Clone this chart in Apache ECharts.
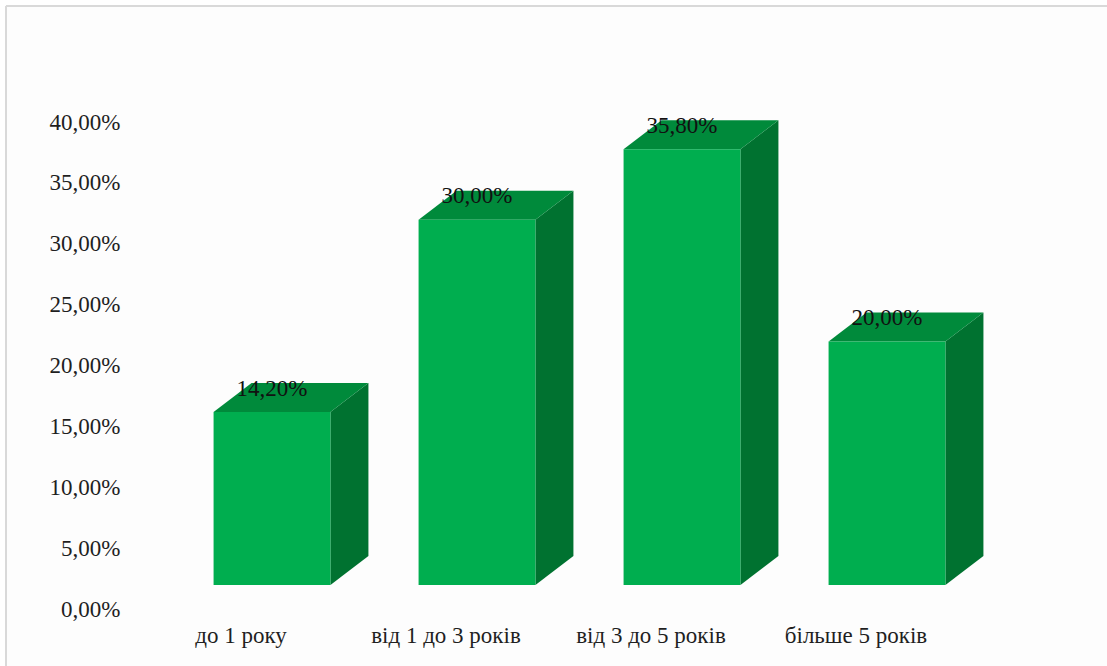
<!DOCTYPE html>
<html>
<head>
<meta charset="utf-8">
<script src="https://cdn.jsdelivr.net/npm/echarts@6/dist/echarts.min.js"></script>
<style>
  html, body { margin: 0; padding: 0; background: #ffffff; }
  #main { width: 1107px; height: 666px; }
</style>
</head>
<body>
<div id="main"></div>
<script>
  // data
  var categories = ['до 1 року', 'від 1 до 3 років', 'від 3 до 5 років', 'більше 5 років'];
  var shares = [14.2, 30.0, 35.8, 20.0];
  var yTicks = [0, 5, 10, 15, 20, 25, 30, 35, 40];

  // excel-like 3d box look
  var SHIFT_X = 31, SHIFT_Y = 24;   // front face offset from the axis
  var DEPTH_X = 38, DEPTH_Y = 29;   // back face offset
  var FRONT = '#00ae4f', TOP = '#008a3b', SIDE = '#007230';

  function pct(v) {
    return v.toFixed(2).replace('.', ',') + '%';
  }

  function renderBox(params, api) {
    var i = api.value(0), v = api.value(1);
    var base = api.coord([i, 0]);
    var head = api.coord([i, v]);
    var w = api.size([1, 0])[0] * 0.57;
    var cx = base[0] + SHIFT_X;
    var x0 = cx - w / 2, x1 = cx + w / 2;
    var yb = base[1] - SHIFT_Y, yt = head[1] - SHIFT_Y;
    return {
      type: 'group',
      children: [
        { type: 'polygon', shape: { points: [[x1, yt], [x1 + DEPTH_X, yt - DEPTH_Y], [x1 + DEPTH_X, yb - DEPTH_Y], [x1, yb]] }, style: { fill: SIDE } },
        { type: 'polygon', shape: { points: [[x0, yt], [x1, yt], [x1 + DEPTH_X, yt - DEPTH_Y], [x0 + DEPTH_X, yt - DEPTH_Y]] }, style: { fill: TOP } },
        { type: 'rect', shape: { x: x0, y: yt, width: w, height: yb - yt }, style: { fill: FRONT } },
        { type: 'text', x: cx, y: yt - 24, style: { text: pct(v), fill: '#111', font: '23px "Liberation Serif"', align: 'center', verticalAlign: 'middle' } }
      ]
    };
  }

  var myChart = echarts.init(document.getElementById('main'), null, { renderer: 'svg' });
  myChart.setOption({
    backgroundColor: '#fdfdfd',
    animation: false,
    graphic: [
      { type: 'line', shape: { x1: 6, y1: 6, x2: 1107, y2: 6 }, style: { stroke: '#d9d9d9', lineWidth: 2 } },
      { type: 'line', shape: { x1: 6, y1: 6, x2: 6, y2: 666 }, style: { stroke: '#d9d9d9', lineWidth: 2 } },
      { type: 'rect', shape: { x: 0, y: 0, width: 1107, height: 5 }, style: { fill: '#fff' }, z: -1 },
      { type: 'rect', shape: { x: 0, y: 0, width: 5, height: 666 }, style: { fill: '#fff' }, z: -1 }
    ],
    grid: { left: 138.5, right: 148.5, top: 122, bottom: 57, containLabel: false },
    xAxis: {
      type: 'category',
      data: categories,
      axisLine: { show: false },
      axisTick: { show: false },
      axisLabel: {
        margin: 15,
        color: '#1f1f1f',
        fontFamily: 'Liberation Serif',
        fontSize: 23
      }
    },
    yAxis: {
      type: 'value',
      min: yTicks[0],
      max: yTicks[yTicks.length - 1],
      interval: 5,
      splitLine: { show: false },
      axisLine: { show: false },
      axisTick: { show: false },
      axisLabel: {
        margin: 18,
        color: '#1f1f1f',
        fontFamily: 'Liberation Serif',
        fontSize: 23,
        formatter: pct
      }
    },
    series: [
      {
        type: 'custom',
        renderItem: renderBox,
        data: shares.map(function (v, i) { return [i, v]; })
      }
    ]
  });
</script>
</body>
</html>
